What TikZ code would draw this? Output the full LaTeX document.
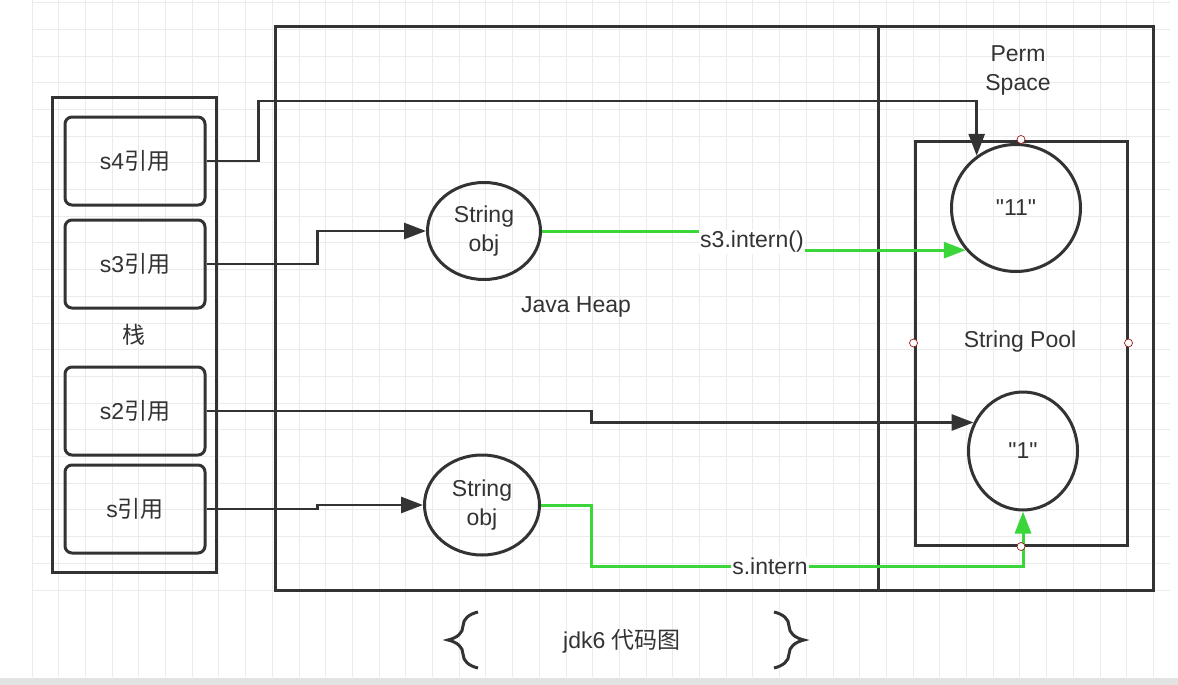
\documentclass[tikz,border=0pt]{standalone}
\usepackage{fontspec}
\setmainfont{Liberation Sans}
\newfontfamily\cjk{Noto Sans CJK SC}
\usetikzlibrary{arrows.meta,positioning,shapes,calc,decorations.pathreplacing}
\definecolor{ink}{HTML}{333333}
\definecolor{grn}{HTML}{3AD63A}
\definecolor{gridc}{HTML}{EBEBEB}
\begin{document}
\begin{tikzpicture}[x=1pt,y=-1pt,line width=3pt,draw=ink,text=ink,
  font=\fontsize{23}{29}\selectfont,
  box node/.style={draw,rectangle,inner sep=0pt},
  ref node/.style={draw,rectangle,rounded corners=7pt,minimum width=140,minimum height=88,inner sep=0pt},
  main node/.style={draw,ellipse,inner sep=0pt,align=center},
  handle/.style={circle,draw=red!50!ink,fill=white,line width=0.7pt,minimum size=8pt,inner sep=0pt},
  link/.style={ink,line width=2.8pt,-{Triangle[length=22pt,width=16pt]}},
  glink/.style={grn,line width=3pt,-{Triangle[length=22pt,width=16pt]}},
  lbl/.style={fill=white,inner sep=1pt}]
\useasboundingbox (0,0) rectangle (1178,685);
% background grid
\fill[white] (0,0) rectangle (1178,685);
\foreach \i in {0,...,42} \draw[gridc,line width=0.9pt] (26.7*\i+32,-2) -- (26.7*\i+32,677);
\foreach \j in {0,...,25} \draw[gridc,line width=0.9pt] (32,590-26.7*\j) -- (1170,590-26.7*\j);
\fill[gray!22] (0,678) rectangle (1178,685);
\begin{scope}
\node[box node,minimum width=164,minimum height=475] (stack) at (134,334.5) {};
\node[ref node] (s4ref) at (135,161) {s4{\cjk 引用}};
\node[ref node] (s3ref) at (135,264) {s3{\cjk 引用}};
\node (stk) at (134,335) {\cjk 栈};
\node[ref node] (s2ref) at (135,411) {s2{\cjk 引用}};
\node[ref node] (sref) at (135,509) {s{\cjk 引用}};
\node[box node,minimum width=603,minimum height=563] (heap) at (576.5,308.5) {};
\node[box node,minimum width=275,minimum height=563] (perm) at (1015.5,308.5) {};
\node[box node,minimum width=212,minimum height=404] (pool) at (1021,343) {};
\node[align=center] (permtxt) at (1018,70) {Perm\\Space};
\node (heaptxt) at (576,307) {Java Heap};
\node (pooltxt) at (1020,342) {String Pool};
\node[main node,minimum width=113,minimum height=97] (obj1) at (484,231) {String\\obj};
\node[main node,minimum width=115,minimum height=100] (obj2) at (482,505) {String\\obj};
\node[main node,minimum width=129,minimum height=127] (str11) at (1016,208) {\textquotedbl 11\textquotedbl};
\node[main node,minimum width=109,minimum height=118] (str1) at (1023,451) {\textquotedbl 1\textquotedbl};
\end{scope}
\begin{scope}
\draw[link] (s4ref.east) -- ++(52,0) -- ++(0,-60) -| (str11.127);
\draw[link] (s3ref.east) -- ++(111,0) |- (obj1.west);
\draw[link] (s2ref.east) -- ++(385,0) |- (str1.150);
\draw[link] (sref.east) -- ++(111,0) |- (obj2.west);
\draw[glink] (obj1.east) -- (752,231) |- (str11.220);
\node[lbl] (lab3) at (752,242) {s3.intern()};
\draw[glink] (obj2.east) -- ++(50,0) |- (800,566) -| (str1.south);
\node[lbl] (labs) at (770,566) {s.intern};
\end{scope}
% resize handles
\foreach \p in {north,west,east,south} \node[handle] at (pool.\p) {};
% caption
\node (cap) at (622,641) {jdk6 {\cjk 代码图}};
\draw[decorate,decoration={brace,amplitude=30pt,aspect=0.5},line width=3pt] (478,668) -- (478,612);
\draw[decorate,decoration={brace,amplitude=30pt,aspect=0.5},line width=3pt] (774,612) -- (774,668);
\end{tikzpicture}
\end{document}
